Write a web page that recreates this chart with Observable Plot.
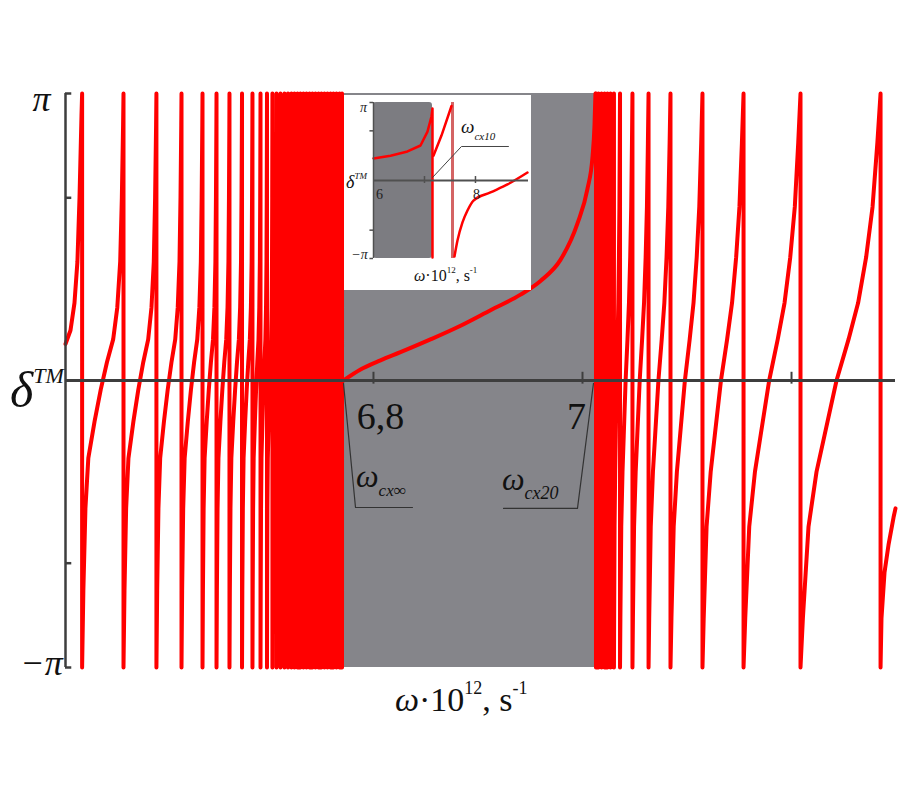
<!DOCTYPE html>
<html><head><meta charset="utf-8">
<script src="https://cdn.jsdelivr.net/npm/d3@7"></script>
<script src="https://cdn.jsdelivr.net/npm/@observablehq/plot@0.6"></script>
<style>
html,body{margin:0;padding:0;background:#fff;}
#wrap{position:relative;width:900px;height:800px;overflow:hidden;background:#fff;}
#inset{position:absolute;left:344px;top:95px;width:187px;height:195px;background:#fff;}
</style></head><body><div id="wrap"><div id="main"></div><div id="inset"></div></div>
<script>
const PI = Math.PI;
// ---- main chart data ----
const xDomain = [6.5053, 7.2995];
const grayBand = [6.7713, 7.0124];
const xTicks = [6.8, 7.0, 7.2];
const xTickLabels = [{x: 6.8, label: "6,8", dx: 7}, {x: 7.0, label: "7", dx: -6}];
const yTicks = [-PI, -2, 2, PI];
const yTickLabels = [{y: PI, label: "π", dy: 6}, {y: -PI, label: "−π", dy: -4}];

const leadIn = [[6.5053,0.40],[6.5101,0.55],[6.5139,0.85],[6.5167,1.30],[6.5187,2.00],[6.5206,2.90]];
const leftJumps = [6.5212,6.5608,6.5923,6.6163,6.6364,6.6498,6.6622,6.6742,6.6842,6.6919,6.6981,
  6.7033,6.7072,6.7110,6.7148,6.7182,6.7215,6.7244,6.7273,6.7301,6.7330,6.7359,6.7388,6.7416,
  6.7445,6.7474,6.7502,6.7531,6.7560,6.7589,6.7617,6.7646,6.7675,6.7699];
const leftProfile = [[0,-3.1416],[0.03,-2.3],[0.08,-1.4],[0.15,-0.85],[0.3,-0.45],[0.45,-0.1],
  [0.6,0.2],[0.75,0.45],[0.85,0.8],[0.92,1.3],[0.96,2.0],[0.99,2.8],[1,3.1416]];
const grayCurve = [[6.7713,0.0],[6.7876,0.12],[6.8067,0.22],[6.8258,0.31],[6.8545,0.45],[6.8833,0.60],
  [6.9120,0.77],[6.9407,0.94],[6.9598,1.09],[6.9789,1.32],[6.9952,1.72],[7.0048,2.10],[7.0096,2.45],
  [7.0115,2.80],[7.0124,3.1416]];
const rightJumps = [7.0129,7.0153,7.0182,7.0211,7.0239,7.0268,7.0301,7.0359,7.0478,7.0632,7.0842,
  7.1148,7.1541,7.2086,7.2852];
const rightProfile = [[0,-3.1416],[0.03,-2.6],[0.1,-1.6],[0.2,-1.0],[0.3,-0.6],[0.45,0.0],[0.6,0.45],
  [0.72,0.85],[0.82,1.35],[0.9,1.9],[0.96,2.6],[1,3.1416]];
const tail = [[7.2861,-2.6],[7.2890,-2.1],[7.2928,-1.8],[7.2976,-1.5],[7.2995,-1.4]];
const annoLeft = [[6.7713,-0.03],[6.7828,-1.39],[6.8373,-1.39]];
const annoRight = [[7.0105,-0.03],[6.9952,-1.40],[6.9244,-1.40]];

// ---- inset data ----
const insetX = [6, 9.04];
const insetGray = [6, 7.157];
const insetXTicks = [7, 8];
const insetXTickLabels = [{x: 6, label: "6", dx: 6}, {x: 8, label: "8", dx: 1}];
const insetYTicks = [-PI, -2, 2, PI];
const insetYTickLabels = [{y: PI, label: "π", dy: 5, dx: -10}, {y: -PI, label: "−π", dy: -4, dx: -14}];
const insetCurve1 = [[6.0,0.89],[6.333,1.0],[6.667,1.17],[6.922,1.41],[7.059,1.97],[7.137,2.58],[7.157,2.9],[7.157,-3.10]];
const insetCurve2 = [[7.176,1.0],[7.333,1.81],[7.53,3.0]];
const insetCurve3 = [[7.588,-3.06],[7.647,-2.42],[7.745,-1.69],[7.843,-1.21],[7.961,-0.81],[8.294,-0.48],[8.627,-0.16],[9.02,0.32]];
const insetPaleJump = [7.549];
const insetAnno = [[7.157,0.12],[7.725,1.37],[8.647,1.37]];

// ---- build main curve pieces from read jumps + profiles ----
function branchPoints(jumps, profile) {
  const out = [];
  for (let i = 0; i < jumps.length; i++) {
    const a = jumps[i];
    out.push({w: a, v: PI});
    out.push({w: a, v: -PI});
    if (i < jumps.length - 1) {
      const b = jumps[i + 1];
      profile.slice(1, -1).forEach(([t, v]) => out.push({w: a + t * (b - a), v}));
    }
  }
  return out;
}
const leftPts = leadIn.map(([w, v]) => ({w, v})).concat(branchPoints(leftJumps, leftProfile));
const grayPts = grayCurve.map(([w, v]) => ({w, v}));
const rightPts = branchPoints(rightJumps, rightProfile).concat(tail.map(([w, v]) => ({w, v})));

const serif = "Liberation Serif, Times New Roman, serif";
const axisCol = "#3e3e3e";
const grayFill = "#85858a";
const red = "#ff0000";

const main = Plot.plot({
  width: 900, height: 800,
  marginLeft: 65, marginRight: 5, marginTop: 93, marginBottom: 133,
  x: {domain: xDomain, axis: null},
  y: {domain: [-PI, PI], axis: null},
  style: {background: "white", fontFamily: serif},
  marks: [
    Plot.rect([grayBand], {x1: d => d[0], x2: d => d[1], y1: -PI, y2: PI, fill: grayFill}),
    Plot.line(leftPts, {x: "w", y: "v", stroke: red, strokeWidth: 4, curve: "linear"}),
    Plot.line(grayPts, {x: "w", y: "v", stroke: red, strokeWidth: 4, curve: "monotone-x"}),
    Plot.line(rightPts, {x: "w", y: "v", stroke: red, strokeWidth: 4, curve: "linear"}),
    Plot.ruleY([0], {stroke: axisCol, strokeWidth: 3}),
    Plot.ruleX([xDomain[0]], {y1: -PI, y2: PI, stroke: axisCol, strokeWidth: 2.5}),
    Plot.ruleY(yTicks, {x1: xDomain[0], x2: xDomain[0] + 0.006, stroke: axisCol, strokeWidth: 2.5}),
    Plot.ruleX(xTicks, {y1: -0.04, y2: 0.09, stroke: axisCol, strokeWidth: 2}),
    Plot.line(annoLeft, {x: d => d[0], y: d => d[1], stroke: "#333", strokeWidth: 1.2}),
    Plot.line(annoRight, {x: d => d[0], y: d => d[1], stroke: "#333", strokeWidth: 1.2}),
    ...xTickLabels.map(d => Plot.text([d], {x: "x", y: 0, text: "label", dx: d.dx, dy: 36, fontSize: 38, fill: "#111"})),
    ...yTickLabels.map(d => Plot.text([d], {x: xDomain[0], y: "y", text: "label", dx: -24, dy: d.dy, fontSize: 36, fontStyle: "italic", fill: "#111"}))
  ]
});
document.getElementById("main").appendChild(main);

const inset = Plot.plot({
  width: 187, height: 195,
  marginLeft: 29, marginRight: 3, marginTop: 7, marginBottom: 32,
  x: {domain: insetX, axis: null},
  y: {domain: [-PI, PI], axis: null},
  style: {background: "white", fontFamily: serif},
  marks: [
    Plot.rect([insetGray], {x1: d => d[0], x2: d => d[1], y1: -PI, y2: PI, fill: "#7c7c81", rx: 3}),
    Plot.ruleX(insetPaleJump, {y1: -PI, y2: PI, stroke: "#d46464", strokeWidth: 3}),
    Plot.line(insetCurve1, {x: d => d[0], y: d => d[1], stroke: red, strokeWidth: 2.5, curve: "linear"}),
    Plot.line(insetCurve2, {x: d => d[0], y: d => d[1], stroke: red, strokeWidth: 2.5}),
    Plot.line(insetCurve3, {x: d => d[0], y: d => d[1], stroke: red, strokeWidth: 2.5, curve: "monotone-x"}),
    Plot.ruleY([0], {stroke: "#505050", strokeWidth: 2}),
    Plot.ruleX([insetX[0]], {y1: -PI, y2: PI, stroke: "#505050", strokeWidth: 1.5}),
    Plot.ruleY(insetYTicks, {x1: insetX[0] - 0.07, x2: insetX[0], stroke: "#505050", strokeWidth: 1.5}),
    Plot.ruleX(insetXTicks, {y1: -0.12, y2: 0.16, stroke: "#505050", strokeWidth: 1.5}),
    Plot.line(insetAnno, {x: d => d[0], y: d => d[1], stroke: "#444", strokeWidth: 1}),
    ...insetXTickLabels.map(d => Plot.text([d], {x: "x", y: 0, text: "label", dx: d.dx, dy: 14, fontSize: 14, fill: "#222"})),
    ...insetYTickLabels.map(d => Plot.text([d], {x: insetX[0], y: "y", text: "label", dx: d.dx, dy: d.dy, fontSize: 14, fontStyle: "italic", fill: "#222"}))
  ]
});
document.getElementById("inset").appendChild(inset);

// ---- rich labels (sub/superscripts) ----
const ov = d3.select("#wrap").append("svg")
  .attr("width", 900).attr("height", 800)
  .style("position", "absolute").style("left", "0px").style("top", "0px")
  .style("pointer-events", "none")
  .attr("font-family", serif).attr("fill", "#111");
function rich(x, y, parts) {
  const t = ov.append("text").attr("x", x).attr("y", y);
  parts.forEach(p => t.append("tspan")
    .attr("font-size", p.s).attr("font-style", p.i ? "italic" : "normal")
    .attr("dy", p.dy || 0).text(p.t));
}
const labels = [
  [10, 407, [{t: "δ", s: 50, i: true}, {t: "TM", s: 22, i: true, dy: -24}]],
  [395, 711, [{t: "ω", s: 34, i: true}, {t: "·10", s: 34}, {t: "12", s: 18, dy: -17}, {t: ", s", s: 34, dy: 17}, {t: "-1", s: 18, dy: -17}]],
  [356, 487, [{t: "ω", s: 32, i: true}, {t: "cx∞", s: 17, i: true, dy: 9}]],
  [502, 490, [{t: "ω", s: 32, i: true}, {t: "cx20", s: 18, i: true, dy: 9}]],
  [346, 188, [{t: "δ", s: 18, i: true}, {t: "TM", s: 9, i: true, dy: -9}]],
  [461, 133, [{t: "ω", s: 19, i: true}, {t: "cx10", s: 11, i: true, dy: 7}]],
  [414, 281, [{t: "ω", s: 16, i: true}, {t: "·10", s: 16}, {t: "12", s: 9, dy: -8}, {t: ", s", s: 16, dy: 8}, {t: "-1", s: 9, dy: -8}]]
];
labels.forEach(([x, y, parts]) => rich(x, y, parts));
</script></body></html>
